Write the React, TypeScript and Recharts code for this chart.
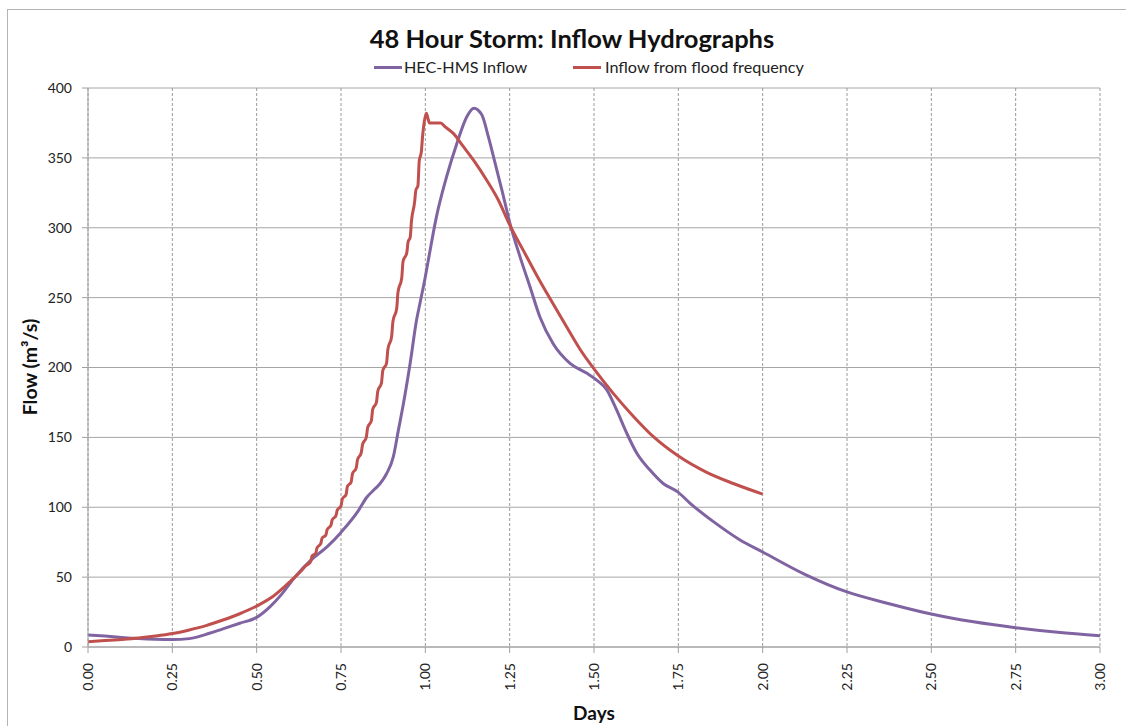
import { CartesianGrid, Line, LineChart, XAxis, YAxis } from "recharts";

// HEC-HMS inflow (purple)
const hmsDays = [
  0, 0.05, 0.1, 0.15, 0.2, 0.25, 0.3, 0.36, 0.4, 0.45, 0.5, 0.54, 0.575, 0.61, 0.66, 0.71, 0.75, 0.8,
  0.826, 0.85, 0.866, 0.885, 0.905, 0.92, 0.935, 0.955, 0.974, 0.985, 1.0, 1.009, 1.033, 1.063, 1.093, 1.123,
  1.144, 1.167, 1.187, 1.207, 1.227, 1.251, 1.281, 1.31, 1.34, 1.379, 1.429, 1.478, 1.508, 1.538, 1.567, 1.597,
  1.627, 1.666, 1.705, 1.748, 1.785, 1.854, 1.933, 2.0, 2.125, 2.25, 2.375, 2.5, 2.625, 2.75, 2.875, 3.0,
];
const hmsFlow = [
  8.6, 7.8, 6.8, 6.0, 5.5, 5.3, 6.0, 9.8, 13, 17, 21.2, 28.9, 38, 49, 62, 72, 82, 97,
  107, 113, 117, 124, 136, 155, 174, 203, 234, 247, 265, 277, 308, 336.5, 360, 379.5,
  385.5, 381, 365, 346, 327, 303, 279, 258, 236, 217, 203, 196, 191, 184, 169.6, 153,
  138.6, 126.6, 117, 111, 102.8, 89.7, 76.6, 68, 52, 39.4, 31, 23.6, 18, 13.8, 10.5, 8.1,
];

// Inflow from flood frequency (red, stepped rise)
const ffDays = [
  0, 0.05, 0.1, 0.15, 0.2, 0.25, 0.3, 0.35, 0.4, 0.45, 0.5, 0.55, 0.6, 0.63, 0.645,
  0.66, 0.664, 0.675, 0.679, 0.69, 0.694, 0.705, 0.709, 0.72, 0.724, 0.735, 0.739, 0.75, 0.754,
  0.765, 0.769, 0.78, 0.784, 0.795, 0.799, 0.81, 0.814, 0.825, 0.829, 0.84, 0.844, 0.855, 0.859,
  0.87, 0.874, 0.885, 0.889, 0.9, 0.904, 0.915, 0.919, 0.93, 0.934, 0.945, 0.949, 0.955, 0.959,
  0.968, 0.972, 0.978, 0.982, 0.988, 0.992, 0.997, 1.003, 1.008, 1.012, 1.045, 1.06, 1.083, 1.113,
  1.147, 1.182, 1.216, 1.25, 1.29, 1.33, 1.38, 1.43, 1.46, 1.5, 1.557, 1.617, 1.676, 1.748, 1.834,
  1.913, 2.0,
];
const ffFlow = [
  3.8, 4.6, 5.4, 6.4, 7.8, 9.6, 12.2, 15.3, 19.3, 23.8, 29.3, 36.5, 47, 54, 58,
  61, 65, 67, 71, 74, 78, 80, 84, 87, 91, 94, 98, 101, 106,
  109, 115, 118, 124, 128, 134, 139, 145, 150, 157, 162, 170, 175, 183,
  189, 198, 203, 213, 222, 233, 242, 254, 264, 276, 282, 290, 293, 305,
  318, 327, 330, 348, 354, 366, 376, 382, 378, 375, 375, 372, 367.5, 358,
  347, 334, 320, 302, 284, 266, 245, 224.5, 212.5, 199, 181.5, 165, 150.5, 137, 125,
  117, 109.4,
];

const xTicks = [0, 0.25, 0.5, 0.75, 1, 1.25, 1.5, 1.75, 2, 2.25, 2.5, 2.75, 3];
const yTicks = [0, 50, 100, 150, 200, 250, 300, 350, 400];

const hmsData = hmsDays.map((d, i) => ({ d, flow: hmsFlow[i] }));
const ffData = ffDays.map((d, i) => ({ d, flow: ffFlow[i] }));

const FONT = "Lato, 'Open Sans', sans-serif";
const PURPLE = "#8064A2";
const RED = "#C0504D";

function RotatedTick(props: any) {
  const { x, y, payload } = props;
  return (
    <text
      transform={`translate(${x},${y + 8}) rotate(-90)`}
      textAnchor="end"
      dy="0.35em"
      fontSize={14}
      fill="#222"
      fontFamily={FONT}
    >
      {Number(payload.value).toFixed(2)}
    </text>
  );
}

export default function App() {
  return (
    <div style={{ position: "relative", width: 1126, height: 726, background: "#fff", overflow: "hidden", fontFamily: FONT }}>
      <style>{`body{margin:0}`}</style>
      <div
        style={{
          position: "absolute",
          left: 7,
          top: 9,
          width: 1200,
          height: 800,
          borderLeft: "1px solid #b4b4b4",
          borderTop: "1px solid #b4b4b4",
        }}
      />
      <div
        style={{
          position: "absolute",
          left: 572,
          top: 38,
          transform: "translate(-50%, -50%)",
          whiteSpace: "nowrap",
          fontSize: 25.5,
          fontWeight: 700,
          color: "#111",
        }}
      >
        48 Hour Storm: Inflow Hydrographs
      </div>
      <div style={{ position: "absolute", top: 57, left: 374, width: 460, height: 20, fontSize: 16.2, color: "#222" }}>
        <span style={{ position: "absolute", left: 0, top: 9, width: 28, height: 3, background: PURPLE }} />
        <span style={{ position: "absolute", left: 30, top: 0, whiteSpace: "nowrap" }}>HEC-HMS Inflow</span>
        <span style={{ position: "absolute", left: 199, top: 9, width: 28, height: 3, background: RED }} />
        <span style={{ position: "absolute", left: 231, top: 0, whiteSpace: "nowrap" }}>Inflow from flood frequency</span>
      </div>
      <div
        style={{
          position: "absolute",
          left: 29,
          top: 367,
          transform: "translate(-50%, -50%) rotate(-90deg)",
          fontSize: 19.5,
          fontWeight: 700,
          whiteSpace: "nowrap",
          color: "#111",
        }}
      >
        Flow (m³/s)
      </div>
      <div
        style={{
          position: "absolute",
          left: 594,
          top: 712,
          transform: "translate(-50%, -50%)",
          fontSize: 19,
          fontWeight: 700,
          color: "#111",
        }}
      >
        Days
      </div>
      <div style={{ position: "absolute", left: 0, top: 0 }}>
        <LineChart width={1126} height={726} margin={{ top: 88, right: 26, bottom: 19, left: 28 }}>
          <CartesianGrid horizontal={true} vertical={false} stroke="#a6a6a6" strokeWidth={1} />
          <CartesianGrid horizontal={false} vertical={true} stroke="#9a9a9a" strokeDasharray="3 2" strokeWidth={1} />
          <XAxis
            type="number"
            dataKey="d"
            domain={[0, 3]}
            ticks={xTicks}
            allowDuplicatedCategory={false}
            interval={0}
            height={60}
            stroke="#a0a0a0"
            tickSize={6}
            tick={<RotatedTick />}
          />
          <YAxis
            type="number"
            domain={[0, 400]}
            ticks={yTicks}
            interval={0}
            width={60}
            stroke="#a0a0a0"
            tickSize={6}
            tickMargin={10}
            tick={{ fontSize: 14, fill: "#222", fontFamily: FONT }}
          />
          <Line
            data={hmsData}
            dataKey="flow"
            type="monotone"
            stroke={PURPLE}
            strokeWidth={3}
            dot={false}
            activeDot={false}
            isAnimationActive={false}
          />
          <Line
            data={ffData}
            dataKey="flow"
            type="monotone"
            stroke={RED}
            strokeWidth={3}
            dot={false}
            activeDot={false}
            isAnimationActive={false}
          />
        </LineChart>
      </div>
    </div>
  );
}
